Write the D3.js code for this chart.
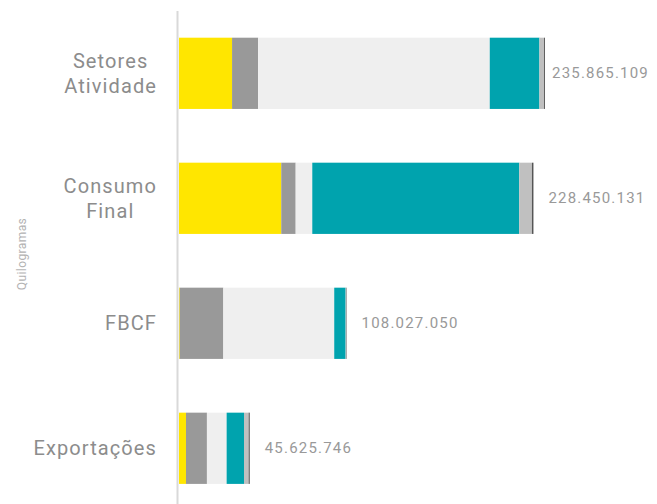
<!DOCTYPE html>
<html>
<head>
<meta charset="utf-8">
<script src="https://cdn.jsdelivr.net/npm/d3@7"></script>
<style>
  body { margin: 0; background: #fff; }
  text { font-family: Roboto, "Liberation Sans", sans-serif; }
</style>
</head>
<body>
<div id="chart"></div>
<script>
// Categories and stacked segment values (millions of kg)
let categories = ["Setores Atividade", "Consumo Final", "FBCF", "Exportações"];
let labelLines = [["Setores", "Atividade"], ["Consumo", "Final"], ["FBCF"], ["Exportações"]];
let totalLabels = ["235.865.109", "228.450.131", "108.027.050", "45.625.746"];

let seg1 = [34.2, 65.9, 0.45, 4.5];
let seg2 = [16.8, 9.3, 28.1, 13.5];
let seg3 = [149.3, 10.7, 71.5, 12.7];
let seg4 = [32.0, 133.4, 7.35, 11.2];
let seg5 = [3.0, 8.2, 0.3, 3.0];
let seg6 = [0.6, 0.95, 0.3, 0.7];

let segColors = ["#ffe600", "#999999", "#efefef", "#00a3ae", "#c0c0c0", "#555555"];
let series = [seg1, seg2, seg3, seg4, seg5, seg6];

////////////////////////////////////////////////////////////////////////
// SVG setup

let width = 657, height = 504;
let left = 179;

let svg = d3.select("#chart").append("svg")
  .attr("width", width).attr("height", height);

let rows = categories.map((c, i) => {
  let r = { cat: c };
  series.forEach((s, j) => r["s" + j] = s[i]);
  return r;
});
let keys = series.map((s, j) => "s" + j);
let stacked = d3.stack().keys(keys)(rows);

let xScale = d3.scaleLinear().domain([0, 235.9]).range([left, 545]);
let yScale = d3.scaleBand().domain(categories).range([0, 521.6])
  .paddingInner(0.43).paddingOuter(0.3016);

// bars
svg.append("g")
  .selectAll("g")
  .data(stacked)
  .enter().append("g")
  .attr("fill", (d, i) => segColors[i])
  .selectAll("rect")
  .data(d => d)
  .enter().append("rect")
  .attr("x", d => xScale(d[0]))
  .attr("y", d => yScale(d.data.cat))
  .attr("width", d => Math.max(0, xScale(d[1]) - xScale(d[0])))
  .attr("height", yScale.bandwidth());

// axis line
svg.append("line")
  .attr("x1", 177.5).attr("x2", 177.5)
  .attr("y1", 11).attr("y2", height)
  .attr("stroke", "#d9d9d9").attr("stroke-width", 2);

// category labels
let catG = svg.append("g").selectAll("text")
  .data(categories)
  .enter().append("text")
  .attr("fill", "#8c8c8c")
  .style("font-size", "20px")
  .style("letter-spacing", "1.1px")
  .attr("text-anchor", "middle");

catG.each(function(d, i) {
  let t = d3.select(this);
  let lines = labelLines[i];
  let cy = yScale(d) + yScale.bandwidth() / 2;
  lines.forEach((ln, k) => {
    t.append("tspan")
      .attr("y", cy + (k - (lines.length - 1) / 2) * 25 + 7)
      .text(ln);
  });
  // center lines on the widest one, right edge at 157
  let w = d3.max(t.selectAll("tspan").nodes(), n => n.getComputedTextLength());
  t.selectAll("tspan").attr("x", 157 - w / 2);
});

// total labels
let sums = series[0].map((v, i) => d3.sum(series, s => s[i]));
svg.append("g").selectAll("text")
  .data(totalLabels)
  .enter().append("text")
  .attr("x", (d, i) => Math.min(xScale(sums[i]) + 15, 552))
  .attr("y", (d, i) => yScale(categories[i]) + yScale.bandwidth() / 2 + 5)
  .attr("fill", "#999")
  .style("font-size", "15px")
  .style("letter-spacing", "1.2px")
  .text(d => d);

// y title
svg.append("text")
  .attr("transform", "translate(26,254) rotate(-90)")
  .attr("text-anchor", "middle")
  .attr("fill", "#b3b3b3")
  .style("font-size", "12px")
  .style("letter-spacing", "0.4px")
  .text("Quilogramas");
</script>
</body>
</html>
